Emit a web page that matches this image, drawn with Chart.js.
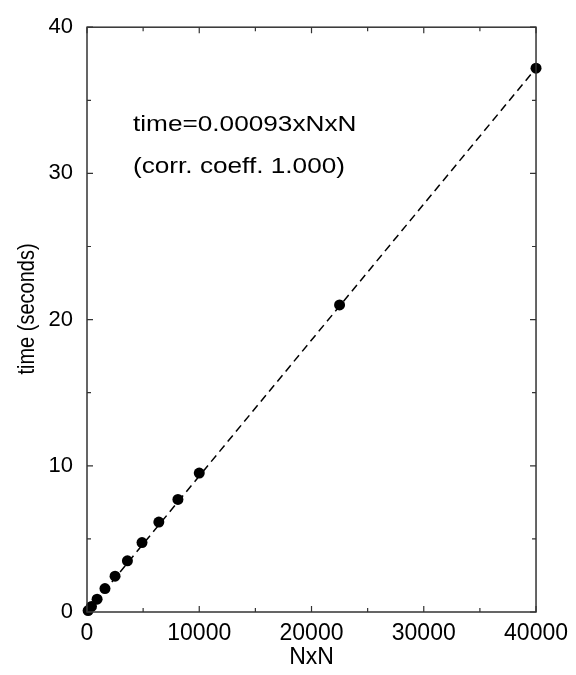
<!DOCTYPE html>
<html>
<head>
<meta charset="utf-8">
<script src="https://cdn.jsdelivr.net/npm/chart.js@4"></script>
<style>
  html, body { margin: 0; padding: 0; background: #fff; }
  #wrap { width: 576px; height: 675px; }
</style>
</head>
<body>
<div id="wrap"><canvas id="timing-chart" width="576" height="675"></canvas></div>
<script>
// measured points (NxN, seconds)
const sizes = [100, 400, 900, 1600, 2500, 3600, 4900, 6400, 8100, 10000, 22500, 40000];
const times = [0.1, 0.38, 0.88, 1.6, 2.45, 3.5, 4.75, 6.15, 7.7, 9.5, 21.0, 37.2];

// fitted line end points
const fitX = [0, 40000];
const fitY = [0, 37.2];

const xTicks = [0, 10000, 20000, 30000, 40000];
const xMinor = [5000, 15000, 25000, 35000];
const yTicks = [0, 10, 20, 30, 40];
const yMinor = [5, 15, 25, 35];

const fitLabel = 'time=0.00093xNxN';
const corrLabel = '(corr. coeff. 1.000)';
const yTitle = 'time (seconds)';

const fontFamily = '"Liberation Sans", Arial, Helvetica, sans-serif';

// frame with inward ticks on all four sides, the fit text and the y title
const framePlugin = {
    id: 'frame',
    afterDatasetsDraw(chart) {
        const ctx = chart.ctx;
        const area = chart.chartArea;
        const xs = chart.scales.x;
        const ys = chart.scales.y;
        ctx.save();
        ctx.strokeStyle = '#333';
        ctx.lineWidth = 1.5;
        ctx.strokeRect(area.left, area.top, area.right - area.left, area.bottom - area.top);

        function xTick(v, len) {
            const px = xs.getPixelForValue(v);
            ctx.beginPath();
            ctx.moveTo(px, area.bottom);
            ctx.lineTo(px, area.bottom - len);
            ctx.moveTo(px, area.top);
            ctx.lineTo(px, area.top + len);
            ctx.stroke();
        }
        function yTick(v, len) {
            const py = ys.getPixelForValue(v);
            ctx.beginPath();
            ctx.moveTo(area.left, py);
            ctx.lineTo(area.left + len, py);
            ctx.moveTo(area.right, py);
            ctx.lineTo(area.right - len, py);
            ctx.stroke();
        }
        ctx.lineWidth = 1.2;
        xTicks.forEach(v => xTick(v, 6));
        xMinor.forEach(v => xTick(v, 4));
        yTicks.forEach(v => yTick(v, 6));
        yMinor.forEach(v => yTick(v, 4));

        // fit annotation, a bit wide like the original print
        ctx.fillStyle = '#000';
        ctx.font = '22px ' + fontFamily;
        ctx.textAlign = 'left';
        ctx.textBaseline = 'alphabetic';
        ctx.save();
        ctx.translate(area.left + 46, 0);
        ctx.scale(1.19, 1);
        ctx.fillText(fitLabel, 0, 131);
        ctx.fillText(corrLabel, 0, 173);
        ctx.restore();

        // y axis title
        ctx.save();
        ctx.translate(27, 309);
        ctx.rotate(-Math.PI / 2);
        ctx.scale(1, 1.19);
        ctx.font = '20px ' + fontFamily;
        ctx.textAlign = 'center';
        ctx.textBaseline = 'middle';
        ctx.fillText(yTitle, 0, 0);
        ctx.restore();

        ctx.restore();
    }
};

const ctx = document.getElementById('timing-chart').getContext('2d');
const timingChart = new Chart(ctx, {
    type: 'scatter',
    data: {
        datasets: [{
            label: 'fit',
            data: fitX.map((x, i) => ({ x: x, y: fitY[i] })),
            showLine: true,
            borderColor: '#000',
            borderWidth: 1.5,
            borderDash: [8, 5],
            pointRadius: 0,
            fill: false
        }, {
            label: 'measured',
            data: sizes.map((x, i) => ({ x: x, y: times[i] })),
            showLine: false,
            backgroundColor: '#000',
            borderColor: '#000',
            pointRadius: 5.5,
            pointBorderWidth: 0
        }]
    },
    options: {
        responsive: false,
        animation: false,
        devicePixelRatio: 1,
        clip: false,
        layout: { padding: { left: 0, right: 36, top: 22, bottom: 0 } },
        plugins: {
            legend: { display: false },
            tooltip: { enabled: false }
        },
        scales: {
            x: {
                type: 'linear',
                min: 0,
                max: 40000,
                afterBuildTicks: s => { s.ticks = xTicks.map(v => ({ value: v })); },
                afterFit: s => { s.height = 63; },
                grid: { display: false, drawTicks: false },
                border: { display: false },
                ticks: {
                    color: '#000',
                    padding: 8,
                    maxRotation: 0,
                    font: { family: fontFamily, size: 23 },
                    callback: v => String(v)
                },
                title: {
                    display: true,
                    text: 'NxN',
                    color: '#000',
                    font: { family: fontFamily, size: 23 },
                    padding: { top: 0, bottom: 4 }
                }
            },
            y: {
                type: 'linear',
                min: 0,
                max: 40,
                afterBuildTicks: s => { s.ticks = yTicks.map(v => ({ value: v })); },
                afterFit: s => { s.width = 87; },
                grid: { display: false, drawTicks: false },
                border: { display: false },
                ticks: {
                    color: '#000',
                    padding: 14,
                    font: { family: fontFamily, size: 22 },
                    callback: v => String(v)
                },
                title: { display: false }
            }
        }
    },
    plugins: [framePlugin]
});
</script>
</body>
</html>
